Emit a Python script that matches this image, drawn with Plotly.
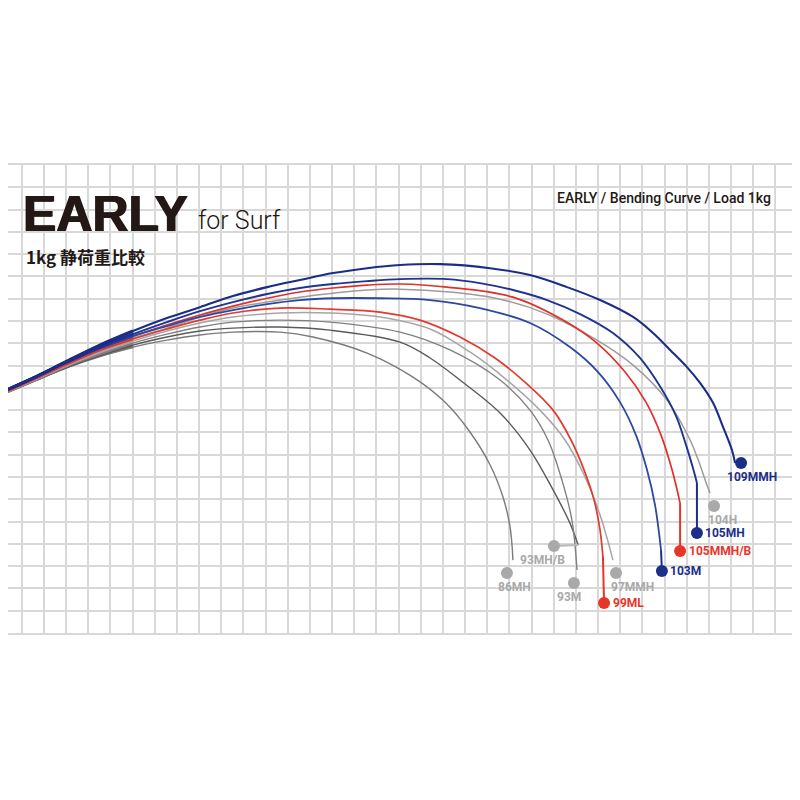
import plotly.graph_objects as go

# ---------------- data (units: 1 grid cell = 10) ----------------
ROD_NAMES = ["104H", "86MH", "93MH/B", "93M", "97MMH", "99ML", "105MMH/B", "103M", "105MH", "109MMH"]

x_104H = [-12.0, 5.1, 20.4, 35.3, 50.2, 65.5, 80.4, 95.3, 110.7, 125.5, 140.4, 155.8, 170.7, 193.2, 215.8, 237.0, 259.5, 275.8, 291.1, 301.5, 306.0, 309.1, 310.5]
y_104H = [106.3, 113.9, 120.7, 127.0, 132.3, 136.8, 141.8, 145.8, 148.5, 150.7, 152.5, 153.9, 154.3, 153.0, 149.8, 143.1, 131.4, 120.2, 104.5, 86.6, 75.4, 66.4, 62.8]

x_86MH = [-12.0, 5.1, 20.4, 35.3, 50.2, 65.5, 80.4, 95.3, 116.5, 131.4, 155.8, 176.5, 190.9, 202.2, 211.3, 217.1, 220.3, 221.6]
y_86MH = [105.9, 113.0, 119.3, 124.3, 128.3, 131.4, 133.7, 135.0, 135.0, 132.8, 125.6, 114.8, 103.6, 90.2, 75.4, 61.0, 47.6, 32.7]

x_93MHB = [-12.0, 5.1, 20.4, 35.3, 50.2, 65.5, 80.4, 95.3, 116.5, 139.1, 170.7, 184.2, 197.7, 215.8, 229.3, 239.7, 247.3, 251.0]
y_93MHB = [105.9, 113.0, 119.3, 124.7, 129.2, 132.8, 135.5, 136.8, 137.3, 135.9, 130.5, 123.4, 113.5, 98.7, 82.1, 64.2, 49.3, 39.5]

x_93M = [-12.0, 5.1, 20.4, 35.3, 50.2, 65.5, 80.4, 95.3, 116.5, 139.1, 170.7, 193.2, 215.8, 229.3, 237.4, 243.7, 248.2, 250.5]
y_93M = [105.9, 113.0, 119.8, 125.2, 130.1, 134.1, 137.3, 139.5, 140.4, 139.5, 135.0, 127.0, 113.5, 100.0, 86.6, 68.6, 50.7, 28.3]

x_97MMH = [-12.0, 5.1, 20.4, 35.3, 50.2, 65.5, 80.4, 95.3, 116.5, 139.1, 161.6, 184.2, 202.2, 218.9, 233.8, 245.1, 253.7, 260.9, 266.7]
y_97MMH = [105.9, 113.5, 120.2, 126.1, 131.0, 135.5, 139.1, 141.8, 143.6, 143.6, 141.8, 136.4, 126.1, 113.5, 100.0, 86.6, 70.9, 52.9, 32.7]

x_99ML = [-12.0, 5.1, 20.4, 35.3, 50.2, 65.5, 80.4, 95.3, 116.5, 139.1, 161.6, 179.6, 197.7, 213.5, 227.0, 239.7, 247.8, 253.7, 258.2, 260.9, 262.2]
y_99ML = [106.3, 113.9, 120.7, 127.0, 131.9, 136.4, 140.4, 143.6, 145.8, 145.3, 144.0, 140.4, 132.8, 123.4, 112.6, 100.0, 86.6, 73.1, 59.7, 46.2, 34.1]

x_105MMHB = [-12.0, 5.1, 20.4, 35.3, 50.2, 65.5, 80.4, 95.3, 110.7, 125.5, 140.4, 155.8, 170.7, 191.9, 221.6, 244.2, 259.5, 272.2, 281.6, 288.4, 293.4, 297.0]
y_105MMHB = [106.3, 113.9, 121.1, 127.9, 133.2, 138.2, 142.7, 146.7, 150.2, 153.0, 154.8, 156.1, 156.6, 155.2, 150.7, 140.4, 130.1, 117.1, 103.6, 88.8, 73.1, 58.3]

x_103M = [-12.0, 5.1, 20.4, 35.3, 50.2, 65.5, 80.4, 95.3, 110.7, 125.5, 140.4, 161.6, 184.2, 206.7, 229.3, 247.3, 260.0, 269.9, 277.1, 282.1, 285.7, 288.4]
y_103M = [106.8, 114.4, 121.6, 127.9, 133.2, 137.7, 141.8, 144.9, 147.6, 149.4, 150.2, 150.2, 149.4, 145.8, 139.1, 128.3, 117.1, 103.6, 88.8, 73.1, 57.4, 37.2]

x_105MH = [-12.0, 5.1, 20.4, 35.3, 50.2, 65.5, 80.4, 95.3, 110.7, 125.5, 140.4, 155.8, 170.7, 191.9, 206.7, 221.6, 237.0, 251.9, 266.7, 278.9, 288.4, 295.2, 299.7, 302.8, 304.6]
y_105MH = [106.8, 114.4, 121.6, 128.3, 134.1, 139.5, 144.4, 148.5, 152.1, 154.8, 156.6, 157.9, 158.8, 158.8, 157.0, 153.9, 149.4, 143.1, 134.6, 123.4, 109.9, 97.3, 84.3, 74.0, 67.3]

x_109MMH = [-12.0, 5.1, 20.4, 35.3, 50.2, 65.5, 80.4, 95.3, 110.7, 125.5, 140.4, 155.8, 170.7, 188.7, 211.3, 229.3, 246.0, 260.9, 275.8, 284.8, 292.5, 300.1, 306.0, 311.9, 316.4, 320.4, 321.8]
y_109MMH = [106.8, 114.4, 122.0, 129.2, 135.5, 141.3, 146.2, 151.2, 155.2, 158.4, 161.5, 163.7, 165.1, 165.5, 163.7, 160.6, 155.2, 149.4, 141.8, 134.6, 127.0, 119.3, 112.2, 103.2, 92.4, 82.1, 76.3]

CURVES_X = [x_104H, x_86MH, x_93MHB, x_93M, x_97MMH, x_99ML, x_105MMHB, x_103M, x_105MH, x_109MMH]
CURVES_Y = [y_104H, y_86MH, y_93MHB, y_93M, y_97MMH, y_99ML, y_105MMHB, y_103M, y_105MH, y_109MMH]

# end-marker (dot) positions, same order as ROD_NAMES
DOT_X = [312.3, 218.9, 240.1, 249.1, 268.1, 262.7, 297.0, 288.8, 304.6, 324.5]
DOT_Y = [57.0, 26.9, 39.0, 22.4, 26.9, 13.5, 36.8, 27.8, 44.9, 76.3]
HAS_LEADER = [False, False, True, False, False, True, True, True, True, False]
LABEL_SIDE = ["below", "below", "below", "below", "below", "right", "right", "right", "right", "below"]

# ---------------- styles ----------------
GRAY_DOT = "#a9a9a9"
RED = "#e8352a"
NAVY = "#1c2f88"
LINE_COLORS = ["#9c9c9c", "#7a7a7a", "#5a5a5a", "#808080", "#a6a6a6",
               "#e23a2f", "#e0302a", "#2b49a0", "#1f3490", "#1b2d87"]
LINE_WIDTHS = [1.5, 1.4, 1.4, 1.4, 1.5, 1.7, 1.7, 1.8, 1.9, 2.1]
DOT_COLORS = [GRAY_DOT, GRAY_DOT, GRAY_DOT, GRAY_DOT, GRAY_DOT, RED, RED, NAVY, NAVY, NAVY]
LABEL_SHIFT = {  # (xshift, yshift) in px
    "104H": (8, -14), "86MH": (8, -14), "93MH/B": (-11, -14), "93M": (-5, -14),
    "97MMH": (16, -14), "99ML": (7, 0), "105MMH/B": (7, 0), "103M": (6, 0),
    "105MH": (6, 0), "109MMH": (11, -14),
}
GRID = "#d8d8d8"
INK = "#231815"

# the page places the figure 8px from the top-left corner; paper positions account for it
def px(v):
    return (v - 8) / 800

def py(v):
    return 1 - (v - 8) / 800

fig = go.Figure()

for name, xs, ys, c, w in zip(ROD_NAMES, CURVES_X, CURVES_Y, LINE_COLORS, LINE_WIDTHS):
    fig.add_trace(go.Scatter(x=xs[:5], y=ys[:5], mode="lines",
                             line=dict(color=c, width=w + 1.0, shape="spline"),
                             hoverinfo="skip"))
    fig.add_trace(go.Scatter(x=xs, y=ys, mode="lines", name=name,
                             line=dict(color=c, width=w, shape="spline")))

for name, xs, ys, dx, dy, lead, dc in zip(ROD_NAMES, CURVES_X, CURVES_Y, DOT_X, DOT_Y, HAS_LEADER, DOT_COLORS):
    if lead:
        lc = "#b8b8b8" if dc == GRAY_DOT else dc
        fig.add_trace(go.Scatter(x=[xs[-1], dx], y=[ys[-1], dy], mode="lines",
                                 line=dict(color=lc, width=2), hoverinfo="skip"))

fig.add_trace(go.Scatter(x=DOT_X, y=DOT_Y, mode="markers",
                         marker=dict(size=12, color=DOT_COLORS, line=dict(width=0)),
                         text=ROD_NAMES, hoverinfo="text"))

for name, dx, dy, dc, side in zip(ROD_NAMES, DOT_X, DOT_Y, DOT_COLORS, LABEL_SIDE):
    xs_, ys_ = LABEL_SHIFT[name]
    fig.add_annotation(x=dx, y=dy, text=f"<b>{name}</b>", showarrow=False,
                       xanchor="left" if side == "right" else "center",
                       yanchor="middle", xshift=xs_, yshift=ys_,
                       font=dict(family="Roboto, Liberation Sans, sans-serif", size=12, color=dc))

# titles
fig.add_annotation(xref="paper", yref="paper", x=px(21), y=py(214), text="<b>EARLY</b>",
                   showarrow=False, xanchor="left", yanchor="middle",
                   font=dict(family="Liberation Sans, Arial, sans-serif", size=50, color=INK,
                             shadow="0.8px 0 0 #231815, -0.8px 0 0 #231815"))
fig.add_annotation(xref="paper", yref="paper", x=px(196), y=py(220), text="for Surf",
                   showarrow=False, xanchor="left", yanchor="middle",
                   font=dict(family="Roboto, Liberation Sans, sans-serif", size=25, color=INK, weight=300))
fig.add_annotation(xref="paper", yref="paper", x=px(24), y=py(256), text="<b>1kg 静荷重比較</b>",
                   showarrow=False, xanchor="left", yanchor="middle",
                   font=dict(family="Noto Sans CJK JP, sans-serif", size=17, color=INK))
fig.add_annotation(xref="paper", yref="paper", x=px(773), y=py(198),
                   text="EARLY / Bending Curve / Load 1kg",
                   showarrow=False, xanchor="right", yanchor="middle",
                   font=dict(family="Roboto, sans-serif", size=14, color=INK, weight=500))

fig.update_layout(
    width=800, height=800, margin=dict(l=0, r=0, t=0, b=0),
    paper_bgcolor="white", plot_bgcolor="white", showlegend=False,
    xaxis=dict(range=[-6.18, 354.7], domain=[0, 1], tick0=0, dtick=10,
               showgrid=True, gridcolor=GRID, gridwidth=2, zeroline=False,
               showticklabels=False, ticks="", showline=True, mirror=True,
               linecolor=GRID, linewidth=2),
    yaxis=dict(range=[0, 210], domain=[py(633), py(165)], tick0=0, dtick=10,
               showgrid=True, gridcolor=GRID, gridwidth=2, zeroline=False,
               showticklabels=False, ticks="", showline=False),
)

fig.write_html("out.html")
